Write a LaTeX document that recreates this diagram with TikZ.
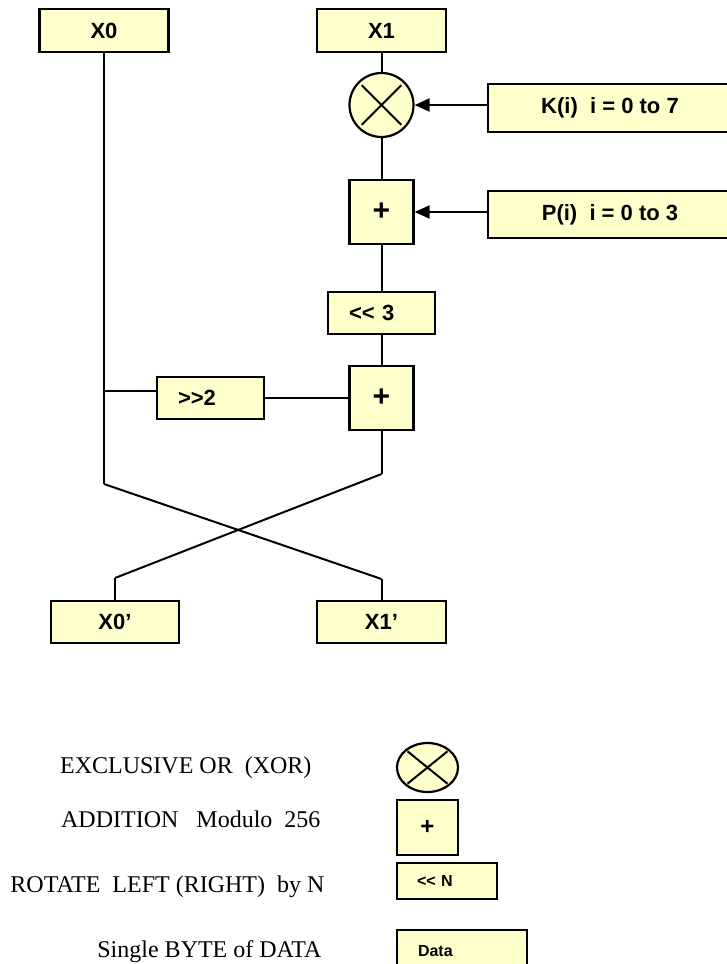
\documentclass[tikz,border=0pt]{standalone}
\usepackage{fontspec}
\setmainfont{Liberation Serif}
\setsansfont{Liberation Sans}
\usetikzlibrary{arrows.meta,shapes.geometric}
\definecolor{boxfill}{HTML}{FFFFCC}

\begin{document}
\begin{tikzpicture}[x=1pt,y=-1pt,
        bytebox/.style={minimum width=129pt,minimum height=43pt},
        keybox/.style={minimum width=244pt,minimum height=48pt},
        addbox/.style={minimum size=64pt,font=\sffamily\bfseries\fontsize{30}{32}\selectfont},
        shiftbox/.style={minimum height=42pt,inner xsep=21pt,text width=65pt,align=left},
        legtext/.style={anchor=base east,font=\fontsize{24}{28}\selectfont}]
    \useasboundingbox (0,0) rectangle (726,964);
    \begin{scope}[every node/.style={draw=black,fill=boxfill,line width=2.2pt,inner sep=0pt,
            font=\sffamily\bfseries\fontsize{22}{26}\selectfont}]
        \node[bytebox] (x0) at (104,30.5) {X0};
        \node[bytebox] (x1) at (381.5,30.5) {X1};
        \node[circle,minimum size=64pt] (xor) at (381.5,105) {};
        \node[keybox] (key) at (610,108) {K(i)~ i = 0 to 7};
        \node[addbox] (add1) at (381.5,212) {+};
        \node[keybox,minimum height=47pt] (perm) at (610,214.5) {P(i)~ i = 0 to 3};
        \node[shiftbox] (rotl) at (381.5,313) {<\kern0pt< 3};
        \node[addbox] (add2) at (381.5,398) {+};
        \node[shiftbox] (shr) at (210.5,398) {>\kern0pt>2};
        \node[bytebox,minimum width=128pt,minimum height=42pt] (x0p) at (115,622) {X0’};
        \node[bytebox,minimum height=42pt] (x1p) at (381.5,622) {X1’};

        % legend
        \node[ellipse,minimum width=61pt,minimum height=49pt] (legxor) at (427.5,767.5) {};
        \node[minimum width=61pt,minimum height=55pt,font=\sffamily\bfseries\fontsize{24}{26}\selectfont] (legadd) at (427.5,827.5) {+};
        \node[shiftbox,inner xsep=20pt,text width=60pt,minimum height=36pt,font=\sffamily\bfseries\fontsize{16}{18}\selectfont] (legrot) at (447,881) {<\kern0pt< N};
        \node[shiftbox,text width=88pt,font=\sffamily\bfseries\fontsize{16}{18}\selectfont] (legdata) at (462,951) {Data};
    \end{scope}

    \coordinate (tap) at (104,391);
    \coordinate (cx0) at (104,484);
    \coordinate (cx1) at (381.5,474);
    \coordinate (bx0) at (115,578);
    \coordinate (bx1) at (381.5,579);

    \begin{scope}[every edge/.style={draw,line width=2pt}]
        \path [-] (x0) edge (cx0);
        \path [-] (cx0) edge (bx1);
        \path [-] (bx1) edge (x1p);
        \path [-] (tap) edge (tap -| shr.west);
        \path [-] (shr) edge (add2);

        \path [-] (x1) edge (xor);
        \path [-] (xor) edge (add1);
        \path [-] (add1) edge (rotl);
        \path [-] (rotl) edge (add2);
        \path [-] (add2) edge (cx1);
        \path [-] (cx1) edge (bx0);
        \path [-] (bx0) edge (x0p);

        \path [-{Triangle[length=15pt,width=13pt]}] (key.west |- xor) edge (xor);
        \path [-{Triangle[length=15pt,width=13pt]}] (perm.west |- add1) edge (add1);

        % crosses of the xor signs
        \path [shorten <=5pt,shorten >=5pt] (xor.north west) edge (xor.south east);
        \path [shorten <=5pt,shorten >=5pt] (xor.north east) edge (xor.south west);
        \path [line width=1.6pt,shorten <=3pt,shorten >=3pt] (legxor.north west) edge (legxor.south east);
        \path [line width=1.6pt,shorten <=3pt,shorten >=3pt] (legxor.north east) edge (legxor.south west);
    \end{scope}

    \node[legtext] (txor) at (315,773) {EXCLUSIVE OR~ (XOR)};
    \node[legtext] (tadd) at (324,827) {ADDITION~~ Modulo~ 256};
    \node[legtext] (trot) at (328,892) {ROTATE~ LEFT (RIGHT)~ by N};
    \node[legtext] (tdata) at (325,957) {Single BYTE of DATA};
\end{tikzpicture}
\end{document}
